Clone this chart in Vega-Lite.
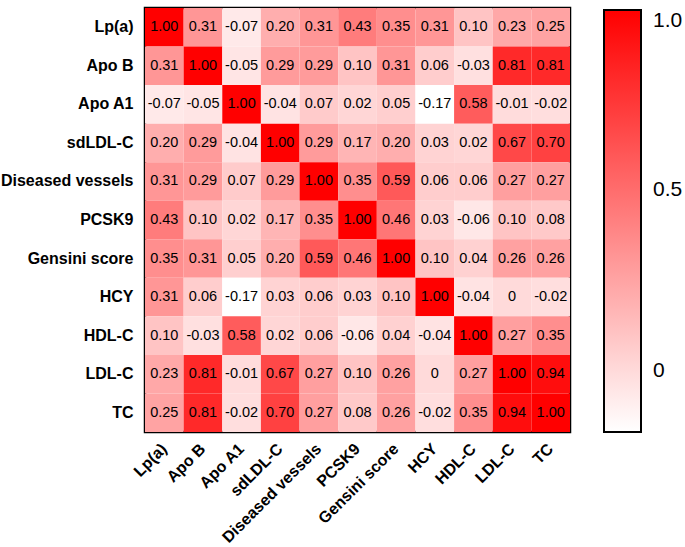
{
  "$schema": "https://vega.github.io/schema/vega-lite/v6.json",
  "width": 425,
  "height": 424,
  "autosize": "none",
  "padding": {"left": 145, "top": 8, "right": 115, "bottom": 115},
  "background": "white",
  "config": {
    "view": {"stroke": "black", "strokeWidth": 2.5},
    "font": "Liberation Sans",
    "locale": {"number": {"decimal": ".", "thousands": ",", "grouping": [3], "currency": ["$", ""], "minus": "-"}}
  },
  "datasets": {
    "m": [
      {"r":"Lp(a)","c":"Lp(a)","v":1.00},{"r":"Lp(a)","c":"Apo B","v":0.31},{"r":"Lp(a)","c":"Apo A1","v":-0.07},{"r":"Lp(a)","c":"sdLDL-C","v":0.20},{"r":"Lp(a)","c":"Diseased vessels","v":0.31},{"r":"Lp(a)","c":"PCSK9","v":0.43},{"r":"Lp(a)","c":"Gensini score","v":0.35},{"r":"Lp(a)","c":"HCY","v":0.31},{"r":"Lp(a)","c":"HDL-C","v":0.10},{"r":"Lp(a)","c":"LDL-C","v":0.23},{"r":"Lp(a)","c":"TC","v":0.25},
      {"r":"Apo B","c":"Lp(a)","v":0.31},{"r":"Apo B","c":"Apo B","v":1.00},{"r":"Apo B","c":"Apo A1","v":-0.05},{"r":"Apo B","c":"sdLDL-C","v":0.29},{"r":"Apo B","c":"Diseased vessels","v":0.29},{"r":"Apo B","c":"PCSK9","v":0.10},{"r":"Apo B","c":"Gensini score","v":0.31},{"r":"Apo B","c":"HCY","v":0.06},{"r":"Apo B","c":"HDL-C","v":-0.03},{"r":"Apo B","c":"LDL-C","v":0.81},{"r":"Apo B","c":"TC","v":0.81},
      {"r":"Apo A1","c":"Lp(a)","v":-0.07},{"r":"Apo A1","c":"Apo B","v":-0.05},{"r":"Apo A1","c":"Apo A1","v":1.00},{"r":"Apo A1","c":"sdLDL-C","v":-0.04},{"r":"Apo A1","c":"Diseased vessels","v":0.07},{"r":"Apo A1","c":"PCSK9","v":0.02},{"r":"Apo A1","c":"Gensini score","v":0.05},{"r":"Apo A1","c":"HCY","v":-0.17},{"r":"Apo A1","c":"HDL-C","v":0.58},{"r":"Apo A1","c":"LDL-C","v":-0.01},{"r":"Apo A1","c":"TC","v":-0.02},
      {"r":"sdLDL-C","c":"Lp(a)","v":0.20},{"r":"sdLDL-C","c":"Apo B","v":0.29},{"r":"sdLDL-C","c":"Apo A1","v":-0.04},{"r":"sdLDL-C","c":"sdLDL-C","v":1.00},{"r":"sdLDL-C","c":"Diseased vessels","v":0.29},{"r":"sdLDL-C","c":"PCSK9","v":0.17},{"r":"sdLDL-C","c":"Gensini score","v":0.20},{"r":"sdLDL-C","c":"HCY","v":0.03},{"r":"sdLDL-C","c":"HDL-C","v":0.02},{"r":"sdLDL-C","c":"LDL-C","v":0.67},{"r":"sdLDL-C","c":"TC","v":0.70},
      {"r":"Diseased vessels","c":"Lp(a)","v":0.31},{"r":"Diseased vessels","c":"Apo B","v":0.29},{"r":"Diseased vessels","c":"Apo A1","v":0.07},{"r":"Diseased vessels","c":"sdLDL-C","v":0.29},{"r":"Diseased vessels","c":"Diseased vessels","v":1.00},{"r":"Diseased vessels","c":"PCSK9","v":0.35},{"r":"Diseased vessels","c":"Gensini score","v":0.59},{"r":"Diseased vessels","c":"HCY","v":0.06},{"r":"Diseased vessels","c":"HDL-C","v":0.06},{"r":"Diseased vessels","c":"LDL-C","v":0.27},{"r":"Diseased vessels","c":"TC","v":0.27},
      {"r":"PCSK9","c":"Lp(a)","v":0.43},{"r":"PCSK9","c":"Apo B","v":0.10},{"r":"PCSK9","c":"Apo A1","v":0.02},{"r":"PCSK9","c":"sdLDL-C","v":0.17},{"r":"PCSK9","c":"Diseased vessels","v":0.35},{"r":"PCSK9","c":"PCSK9","v":1.00},{"r":"PCSK9","c":"Gensini score","v":0.46},{"r":"PCSK9","c":"HCY","v":0.03},{"r":"PCSK9","c":"HDL-C","v":-0.06},{"r":"PCSK9","c":"LDL-C","v":0.10},{"r":"PCSK9","c":"TC","v":0.08},
      {"r":"Gensini score","c":"Lp(a)","v":0.35},{"r":"Gensini score","c":"Apo B","v":0.31},{"r":"Gensini score","c":"Apo A1","v":0.05},{"r":"Gensini score","c":"sdLDL-C","v":0.20},{"r":"Gensini score","c":"Diseased vessels","v":0.59},{"r":"Gensini score","c":"PCSK9","v":0.46},{"r":"Gensini score","c":"Gensini score","v":1.00},{"r":"Gensini score","c":"HCY","v":0.10},{"r":"Gensini score","c":"HDL-C","v":0.04},{"r":"Gensini score","c":"LDL-C","v":0.26},{"r":"Gensini score","c":"TC","v":0.26},
      {"r":"HCY","c":"Lp(a)","v":0.31},{"r":"HCY","c":"Apo B","v":0.06},{"r":"HCY","c":"Apo A1","v":-0.17},{"r":"HCY","c":"sdLDL-C","v":0.03},{"r":"HCY","c":"Diseased vessels","v":0.06},{"r":"HCY","c":"PCSK9","v":0.03},{"r":"HCY","c":"Gensini score","v":0.10},{"r":"HCY","c":"HCY","v":1.00},{"r":"HCY","c":"HDL-C","v":-0.04},{"r":"HCY","c":"LDL-C","v":0},{"r":"HCY","c":"TC","v":-0.02},
      {"r":"HDL-C","c":"Lp(a)","v":0.10},{"r":"HDL-C","c":"Apo B","v":-0.03},{"r":"HDL-C","c":"Apo A1","v":0.58},{"r":"HDL-C","c":"sdLDL-C","v":0.02},{"r":"HDL-C","c":"Diseased vessels","v":0.06},{"r":"HDL-C","c":"PCSK9","v":-0.06},{"r":"HDL-C","c":"Gensini score","v":0.04},{"r":"HDL-C","c":"HCY","v":-0.04},{"r":"HDL-C","c":"HDL-C","v":1.00},{"r":"HDL-C","c":"LDL-C","v":0.27},{"r":"HDL-C","c":"TC","v":0.35},
      {"r":"LDL-C","c":"Lp(a)","v":0.23},{"r":"LDL-C","c":"Apo B","v":0.81},{"r":"LDL-C","c":"Apo A1","v":-0.01},{"r":"LDL-C","c":"sdLDL-C","v":0.67},{"r":"LDL-C","c":"Diseased vessels","v":0.27},{"r":"LDL-C","c":"PCSK9","v":0.10},{"r":"LDL-C","c":"Gensini score","v":0.26},{"r":"LDL-C","c":"HCY","v":0},{"r":"LDL-C","c":"HDL-C","v":0.27},{"r":"LDL-C","c":"LDL-C","v":1.00},{"r":"LDL-C","c":"TC","v":0.94},
      {"r":"TC","c":"Lp(a)","v":0.25},{"r":"TC","c":"Apo B","v":0.81},{"r":"TC","c":"Apo A1","v":-0.02},{"r":"TC","c":"sdLDL-C","v":0.70},{"r":"TC","c":"Diseased vessels","v":0.27},{"r":"TC","c":"PCSK9","v":0.08},{"r":"TC","c":"Gensini score","v":0.26},{"r":"TC","c":"HCY","v":-0.02},{"r":"TC","c":"HDL-C","v":0.35},{"r":"TC","c":"LDL-C","v":0.94},{"r":"TC","c":"TC","v":1.00}
    ]
  },
  "data": {"name": "m"},
  "encoding": {
    "x": {
      "field": "c", "type": "nominal",
      "sort": ["Lp(a)","Apo B","Apo A1","sdLDL-C","Diseased vessels","PCSK9","Gensini score","HCY","HDL-C","LDL-C","TC"],
      "scale": {"paddingInner": 0, "paddingOuter": 0},
      "axis": {"title": null, "labelAngle": -45, "labelAlign": "right", "labelBaseline": "middle", "ticks": false, "domain": false, "labelFontSize": 16, "labelFontWeight": "bold", "labelColor": "black", "labelPadding": 14, "labelFont": "Liberation Sans"}
    },
    "y": {
      "field": "r", "type": "nominal",
      "sort": ["Lp(a)","Apo B","Apo A1","sdLDL-C","Diseased vessels","PCSK9","Gensini score","HCY","HDL-C","LDL-C","TC"],
      "scale": {"paddingInner": 0, "paddingOuter": 0},
      "axis": {"title": null, "ticks": false, "domain": false, "labelFontSize": 16, "labelFontWeight": "bold", "labelColor": "black", "labelPadding": 12, "labelFont": "Liberation Sans"}
    }
  },
  "layer": [
    {
      "mark": {"type": "rect"},
      "encoding": {
        "color": {
          "field": "v", "type": "quantitative",
          "scale": {"domain": [-0.17, 1], "range": ["#ffffff", "#ff0000"], "interpolate": "rgb"},
          "legend": {
            "title": null, "orient": "none", "legendX": 459, "legendY": 2,
            "direction": "vertical",
            "gradientLength": 422, "gradientThickness": 37,
            "gradientStrokeColor": "black", "gradientStrokeWidth": 2,
            "values": [0, 0.5, 1],
            "labelExpr": "datum.value == 0 ? '0' : format(datum.value, '.1f')",
            "labelFontSize": 21, "labelColor": "black", "labelOffset": 12,
            "labelFont": "Liberation Sans", "labelOverlap": false
          }
        }
      }
    },
    {
      "mark": {"type": "text", "fontSize": 14.5, "color": "black", "font": "Liberation Sans"},
      "encoding": {
        "text": {
          "condition": {"test": "datum.v == 0", "value": "0"},
          "field": "v", "type": "quantitative", "format": ".2f"
        }
      }
    }
  ]
}
